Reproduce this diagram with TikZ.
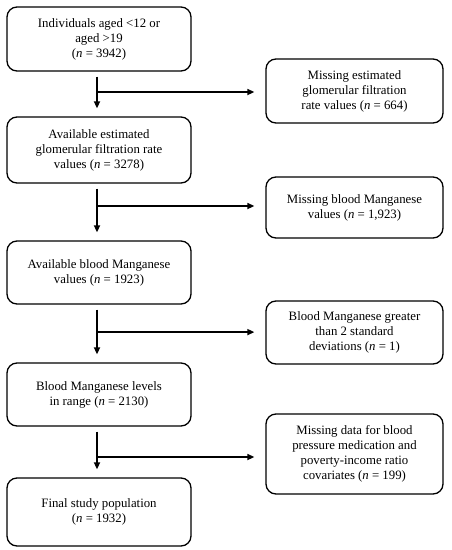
\documentclass[tikz,border=0pt]{standalone}
\usepackage{fontspec}
\setmainfont{Liberation Serif}
\usetikzlibrary{arrows.meta}
\begin{document}
\begin{tikzpicture}[
  box/.style={draw, line width=1.3pt, rounded corners=10pt, align=center, inner sep=2pt,
    font=\fontsize{12.8}{15}\selectfont},
  lbox/.style={box, minimum width=184pt},
  rbox/.style={box, minimum width=177pt},
  arr/.style={line width=1.6pt, -{Triangle[length=7pt,width=6pt]}},
]
\useasboundingbox (0,0) rectangle (451pt,-550pt);
\node[lbox, minimum height=64pt] (b1) at (99pt,-39pt) {Individuals aged <12 or\\aged >19\\(\textit{n} = 3942)};
\node[lbox, minimum height=66pt] (b2) at (99pt,-150pt) {Available estimated\\glomerular filtration rate\\values (\textit{n} = 3278)};
\node[lbox, minimum height=63pt] (b3) at (99pt,-272.5pt) {Available blood Manganese\\values (\textit{n} = 1923)};
\node[lbox, minimum height=63pt] (b4) at (99pt,-394.5pt) {Blood Manganese levels\\in range (\textit{n} = 2130)};
\node[lbox, minimum height=68pt] (b5) at (99pt,-512pt) {Final study population\\(\textit{n} = 1932)};

\node[rbox, minimum height=64pt] (r1) at (354.5pt,-91pt) {Missing estimated\\glomerular filtration\\rate values (\textit{n} = 664)};
\node[rbox, minimum height=61pt] (r2) at (354.5pt,-207.5pt) {Missing blood Manganese\\values (\textit{n} = 1,923)};
\node[rbox, minimum height=63pt] (r3) at (354.5pt,-332.5pt) {Blood Manganese greater\\than 2 standard\\deviations (\textit{n} = 1)};
\node[rbox, minimum height=80pt] (r4) at (354.5pt,-454pt) {Missing data for blood\\pressure medication and\\poverty-income ratio\\covariates (\textit{n} = 199)};

\foreach \a/\b/\r/\dy in {b1/b2/r1/-1pt, b2/b3/r2/1.5pt, b3/b4/r3/0.4pt, b4/b5/r4/-3pt}{
  \draw[arr] ([xshift=-2pt,yshift=-5pt]\a.south) coordinate (s) -- ([xshift=-2pt,yshift=8pt]\b.north);
  \draw[arr] ([yshift=\dy]\r.west -| s) -- ([xshift=-11pt,yshift=\dy]\r.west);
}
\end{tikzpicture}
\end{document}
